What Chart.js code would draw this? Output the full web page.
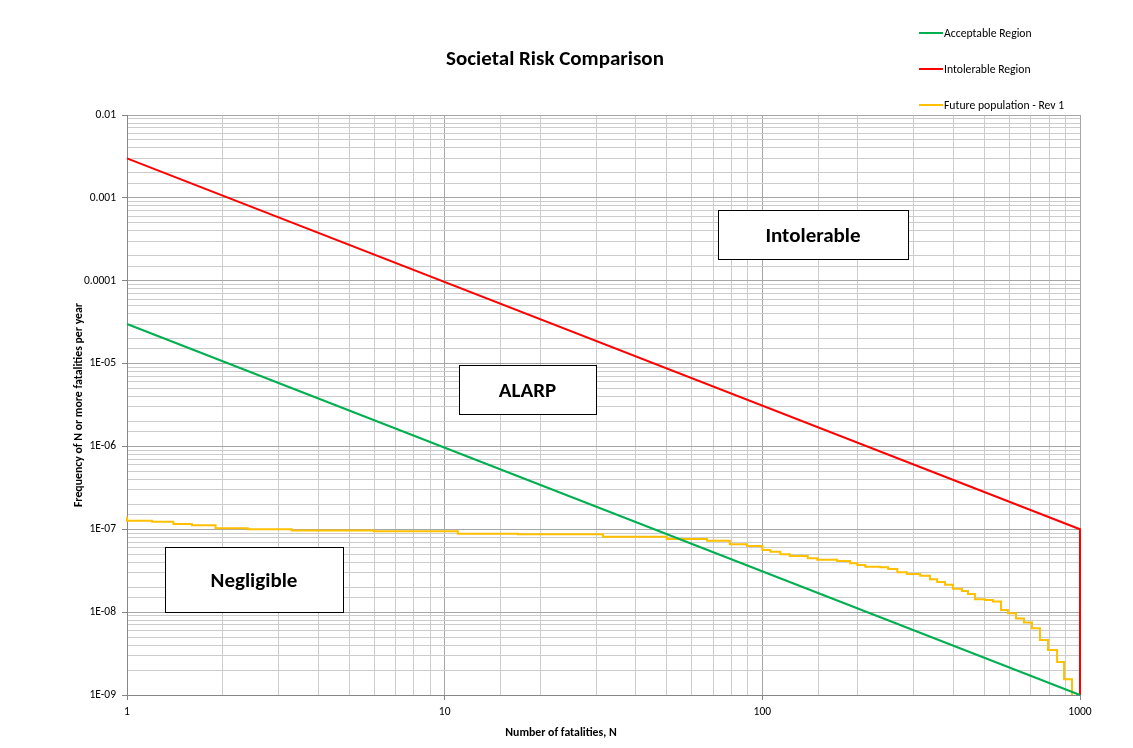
<!DOCTYPE html>
<html>
<head>
<meta charset="utf-8">
<title>Societal Risk Comparison</title>
<script src="https://cdn.jsdelivr.net/npm/chart.js@4/dist/chart.umd.min.js"></script>
<style>
  html, body { margin: 0; padding: 0; background: #fff; }
  #wrap { width: 1133px; height: 748px; position: relative; }
</style>
</head>
<body>
<div id="wrap"><canvas id="risk-chart"></canvas></div>
<script>
// F-N curve values
var acceptableN = [1, 1000];
var acceptableF = [3e-5, 1e-9];

var intolerableN = [1, 1000, 1000];
var intolerableF = [3e-3, 1e-7, 1e-9];

var futureN = [1, 1, 1.2, 1.4, 1.6, 1.9, 2.4, 3.3, 6, 11, 17, 31.5, 50, 67, 79, 89.5,
  100, 106, 114, 122, 139, 149, 172, 189, 199, 211, 235, 249, 266, 285, 314, 337,
  355, 376, 398, 425, 444, 467, 502, 532, 564, 593, 629, 666, 706, 748, 793, 847,
  891, 944];
var futureF = [1.42e-7, 1.27e-7, 1.23e-7, 1.16e-7, 1.12e-7, 1.03e-7, 1.0e-7, 9.64e-8,
  9.46e-8, 8.85e-8, 8.71e-8, 8.1e-8, 7.64e-8, 7.29e-8, 6.59e-8, 6.29e-8,
  5.63e-8, 5.36e-8, 4.99e-8, 4.76e-8, 4.47e-8, 4.30e-8, 4.14e-8, 3.89e-8, 3.71e-8,
  3.54e-8, 3.48e-8, 3.32e-8, 3.03e-8, 2.89e-8, 2.75e-8, 2.49e-8,
  2.31e-8, 2.14e-8, 1.92e-8, 1.8e-8, 1.65e-8, 1.43e-8, 1.40e-8, 1.34e-8, 1.06e-8,
  9.7e-9, 8.4e-9, 7.5e-9, 6.4e-9, 4.6e-9, 3.5e-9, 2.5e-9, 1.55e-9, 1e-9];

var seriesNames = ['Acceptable Region', 'Intolerable Region', 'Future population - Rev 1'];
var seriesColors = ['#00b050', '#ff0000', '#ffc000'];

var xTickValues = [1, 10, 100, 1000];
var xTickLabels = ['1', '10', '100', '1000'];
var yTickValues = [0.01, 0.001, 0.0001, 1e-5, 1e-6, 1e-7, 1e-8, 1e-9];
var yTickLabels = ['0.01', '0.001', '0.0001', '1E-05', '1E-06', '1E-07', '1E-08', '1E-09'];

var regionLabels = ['Intolerable', 'ALARP', 'Negligible'];

var FONT = 'Carlito, Lato, "Liberation Sans", sans-serif';

function pairs(xs, ys) {
  return xs.map(function(x, i) { return {x: x, y: ys[i]}; });
}

function isMajor(v) {
  var l = Math.log10(v);
  return Math.abs(l - Math.round(l)) < 1e-6;
}

function labelFor(values, labels, v) {
  for (var i = 0; i < values.length; i++) {
    if (Math.abs(Math.log10(values[i]) - Math.log10(v)) < 1e-6) return labels[i];
  }
  return '';
}

// title, legend, text boxes and axis titles
var decorPlugin = {
  id: 'decor',
  afterDatasetsDraw: function(chart) {
    var ctx = chart.ctx;
    var area = chart.chartArea;
    ctx.save();

    // region boxes
    var boxes = [
      {x: 718, y: 210, w: 190, h: 49},
      {x: 459, y: 365, w: 137, h: 49},
      {x: 165, y: 547, w: 178, h: 65}
    ];
    ctx.font = 'bold 21px ' + FONT;
    ctx.textAlign = 'center';
    ctx.textBaseline = 'middle';
    boxes.forEach(function(b, i) {
      ctx.fillStyle = '#ffffff';
      ctx.fillRect(b.x, b.y, b.w, b.h);
      ctx.strokeStyle = '#000000';
      ctx.lineWidth = 1;
      ctx.strokeRect(b.x + 0.5, b.y + 0.5, b.w, b.h);
      ctx.fillStyle = '#000000';
      ctx.fillText(regionLabels[i], b.x + b.w / 2, b.y + b.h / 2 + 2);
    });

    // title
    ctx.font = 'bold 21px ' + FONT;
    ctx.fillText('Societal Risk Comparison', 555, 60);

    // legend
    ctx.font = '11.7px ' + FONT;
    ctx.textAlign = 'left';
    seriesNames.forEach(function(name, i) {
      var y = 33 + i * 36;
      ctx.strokeStyle = seriesColors[i];
      ctx.lineWidth = 2;
      ctx.beginPath();
      ctx.moveTo(919, y);
      ctx.lineTo(943, y);
      ctx.stroke();
      ctx.fillStyle = '#000000';
      ctx.fillText(name, 944, y + 1);
    });

    // axis titles
    ctx.font = 'bold 11.8px ' + FONT;
    ctx.textAlign = 'center';
    ctx.fillText('Number of fatalities, N', 561, 733);
    ctx.translate(79, (area.top + area.bottom) / 2);
    ctx.rotate(-Math.PI / 2);
    ctx.fillText('Frequency of N or more fatalities per year', 0, 0);
    ctx.restore();
  }
};

var gridColor = function(c) {
  return isMajor(c.tick.value) ? '#a6a6a6' : '#cccccc';
};
var tickMarkColor = function(c) {
  return isMajor(c.tick.value) ? '#868686' : 'rgba(0,0,0,0)';
};

var riskChart = new Chart(document.getElementById('risk-chart'), {
  type: 'scatter',
  data: {
    datasets: [{
      label: seriesNames[0],
      data: pairs(acceptableN, acceptableF),
      borderColor: seriesColors[0],
      borderWidth: 2,
      showLine: true,
      pointRadius: 0,
      clip: 4
    }, {
      label: seriesNames[1],
      data: pairs(intolerableN, intolerableF),
      borderColor: seriesColors[1],
      borderWidth: 2,
      showLine: true,
      pointRadius: 0,
      clip: 4
    }, {
      label: seriesNames[2],
      data: pairs(futureN, futureF),
      borderColor: seriesColors[2],
      borderWidth: 2,
      showLine: true,
      stepped: true,
      pointRadius: 0,
      clip: 4
    }]
  },
  options: {
    responsive: true,
    maintainAspectRatio: false,
    animation: false,
    layout: { padding: { left: 0, top: 115, right: 53, bottom: 0 } },
    plugins: {
      legend: { display: false },
      title: { display: false },
      tooltip: { enabled: false }
    },
    scales: {
      x: {
        type: 'logarithmic',
        min: 1,
        max: 1000,
        afterFit: function(s) { s.height = 53; },
        border: { color: '#868686', width: 1 },
        grid: { color: gridColor, tickColor: tickMarkColor, tickLength: 5 },
        ticks: {
          autoSkip: false,
          maxRotation: 0,
          padding: 5,
          color: '#000',
          font: { family: FONT, size: 11.5 },
          callback: function(v) { return isMajor(v) ? labelFor(xTickValues, xTickLabels, v) : ''; }
        }
      },
      y: {
        type: 'logarithmic',
        min: 1e-9,
        max: 0.01,
        afterFit: function(s) { s.width = 127; },
        border: { color: '#868686', width: 1 },
        grid: { color: gridColor, tickColor: tickMarkColor, tickLength: 5 },
        ticks: {
          autoSkip: false,
          padding: 6,
          color: '#000',
          font: { family: FONT, size: 11.5 },
          callback: function(v) { return isMajor(v) ? labelFor(yTickValues, yTickLabels, v) : ''; }
        }
      }
    }
  },
  plugins: [decorPlugin]
});
</script>
</body>
</html>
